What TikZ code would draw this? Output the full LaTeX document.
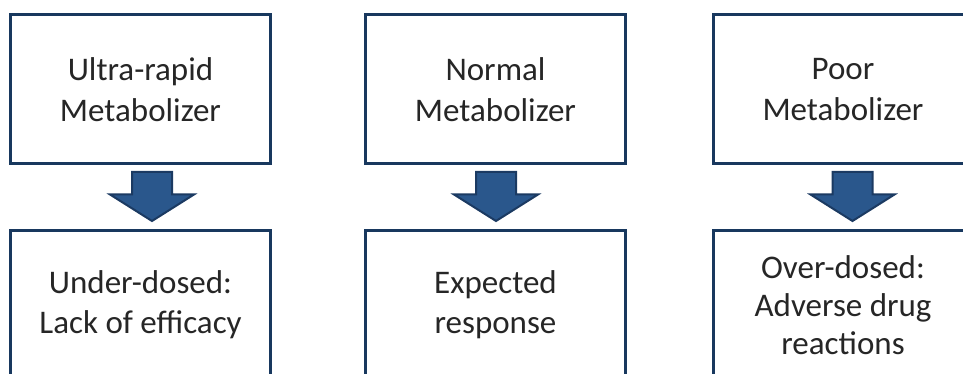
\documentclass[tikz,border=0pt]{standalone}
\usepackage{fontspec}
\setmainfont{Carlito}
\definecolor{boxline}{RGB}{24,56,94}
\definecolor{arrowfillc}{RGB}{42,87,140}
\definecolor{arrowline}{RGB}{27,58,98}
\definecolor{txt}{RGB}{38,38,38}
\tikzset{
  stagebox/.style={draw=boxline, line width=3pt, fill=white,
    minimum width=260pt, minimum height=149pt, inner sep=0pt,
    align=center, text=txt, font=\fontsize{33}{40}\selectfont},
  arrowbody/.style={fill=arrowfillc, draw=arrowline, line width=2pt, line join=miter},
  downarrow/.pic={
    \path[arrowbody] (-20,0) -- (20,0) -- (20,22.5) -- (42,22.5) -- (0,49)
      -- (-42,22.5) -- (-20,22.5) -- cycle;
  }
}
\begin{document}
\begin{tikzpicture}[x=1pt,y=-1pt]
  \useasboundingbox (0,0) rectangle (963,374);
  \clip (0,0) rectangle (963,374);
  \fill[white] (0,0) rectangle (963,374);

  % metabolizer types
  \node[stagebox, font=\fontsize{33}{41}\selectfont] (ultra)  at (140.5,89.5) {Ultra-rapid\\Metabolizer};
  \node[stagebox, font=\fontsize{33}{41}\selectfont] (normal) at (495.5,89.5) {Normal\\Metabolizer};
  \node[stagebox, font=\fontsize{33}{41}\selectfont] (poor)   at (843,89.5)   {Poor\\Metabolizer};

  % resulting outcomes
  \node[stagebox] (under)    at (140.5,305) {Under-dosed:\\Lack of efficacy};
  \node[stagebox] (expected) at (495.5,305) {Expected\\response};
  \node[stagebox, font=\fontsize{33}{38}\selectfont] (over) at (843,305)
    {Over-dosed:\\Adverse drug\\reactions};

  % block arrows between the rows
  \coordinate (a1) at (152,172);
  \coordinate (a2) at (496,172);
  \coordinate (a3) at (852.5,172);
  \pic at (a1) {downarrow};
  \pic at (a2) {downarrow};
  \pic at (a3) {downarrow};
\end{tikzpicture}
\end{document}
